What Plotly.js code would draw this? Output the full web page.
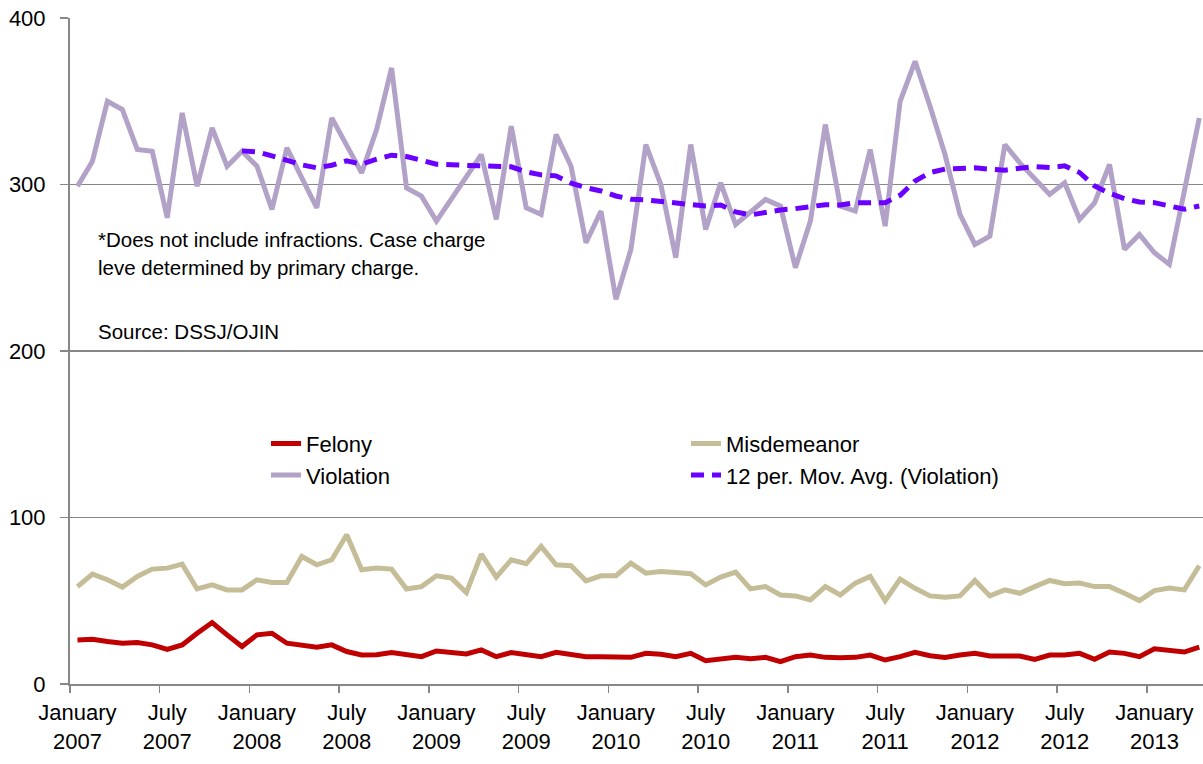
<!DOCTYPE html>
<html>
<head>
<meta charset="utf-8">
<script src="https://cdn.plot.ly/plotly-3.0.1.min.js"></script>
<style>
  html, body { margin: 0; padding: 0; background: #ffffff; overflow: hidden; }
  #chart { width: 1203px; height: 764px; }
</style>
</head>
<body>
<div id="chart"></div>
<script>
// ---- Data ----
var monthNames = ["January","February","March","April","May","June","July","August","September","October","November","December"];
var startYear = 2007;
var felony = [26.5,26.9,25.5,24.5,24.9,23.5,20.8,23.5,30.5,36.9,29.5,22.5,
              29.5,30.5,24.5,23.1,22.1,23.5,19.5,17.4,17.6,18.9,17.8,16.4,
              19.8,18.9,18.0,20.5,16.4,18.9,18.0,16.4,19.0,18.0,16.4,16.4,
              16.0,16.0,18.4,17.8,16.4,18.4,14.0,14.8,16.0,15.2,16.0,13.4,
              16.4,17.4,16.0,15.8,16.0,17.4,14.4,16.4,19.0,17.0,16.0,17.4,
              18.4,16.8,16.8,16.8,14.8,17.4,17.4,18.4,14.8,19.2,18.4,16.4,
              21.1,20.1,19.2,22.1];
var misdemeanor = [58.5,66.0,62.6,58.2,64.6,69.0,69.6,72.0,57.1,59.5,56.5,56.5,
                   62.6,61.0,61.0,76.6,71.6,74.6,89.6,68.6,69.6,69.0,57.1,58.5,
                   65.0,63.6,54.9,78.0,64.2,74.6,72.2,82.6,71.6,71.0,62.0,65.0,
                   65.0,72.6,66.6,67.6,67.0,66.2,59.5,64.2,67.2,57.1,58.5,53.5,
                   52.9,50.5,58.5,53.5,60.6,64.6,50.1,63.0,57.5,52.9,52.1,52.9,
                   62.2,52.9,56.5,54.5,58.5,62.2,60.2,60.6,58.5,58.5,54.5,50.1,
                   56.1,57.7,56.5,71.0];
var violation = [299,314,350,345,321,320,280,343,299,334,311,320,
                 311,285,322,304,286,340,323,307,333,370,298,293,
                 278,291,304,318,279,335,286,282,330,311,265,284,
                 231,261,324,300,256,324,273,301,276,284,291,287,
                 250,278,336,287,284,321,275,350,374,347,318,282,
                 264,269,324,313,304,294,301,279,289,312,261,270,
                 259,252,296,340];
var movingAvg = [null,null,null,null,null,null,null,null,null,null,null,320.2,
                 319.6,317.2,314.6,311.8,310.0,311.6,314.2,312.2,315.2,317.6,316.8,314.2,
                 312.2,311.8,311.6,311.6,311.2,310.6,307.6,305.8,305.2,300.8,298.1,296.1,
                 293.1,291.1,290.7,289.9,288.7,287.7,287.1,287.7,283.5,281.7,283.5,284.7,
                 285.5,286.5,287.9,287.7,289.1,289.1,289.1,293.5,302.1,307.2,309.2,309.6,
                 310.0,309.2,308.6,309.8,310.8,310.2,311.2,307.2,299.1,294.7,291.5,289.5,
                 289.1,287.1,285.1,287.1];
var seriesNames = ["Felony","Misdemeanor","Violation","12 per. Mov. Avg. (Violation)"];
var noteLines = ["*Does not include infractions. Case charge",
                 "leve determined by primary charge.",
                 "Source: DSSJ/OJIN"];

// category labels, one per month
var categories = [];
for (var i = 0; i < violation.length; i++) {
  var m = i % 12, y = startYear + Math.floor(i / 12);
  categories.push(monthNames[m] + "<br>" + y);
}

var FONT = "Arial, 'Liberation Sans', sans-serif";
var GREY = "#878787";

var traces = [
  {x: categories, y: felony, name: seriesNames[0], type: "scatter", mode: "lines",
   line: {color: "#C00000", width: 5}},
  {x: categories, y: misdemeanor, name: seriesNames[1], type: "scatter", mode: "lines",
   line: {color: "#C4BD97", width: 5}},
  {x: categories, y: violation, name: seriesNames[2], type: "scatter", mode: "lines",
   line: {color: "#B3A2C7", width: 5}},
  {x: categories, y: movingAvg, name: seriesNames[3], type: "scatter", mode: "lines",
   line: {color: "#6A00FF", width: 5, dash: "13px,8px"}, connectgaps: false}
];

var layout = {
  width: 1203, height: 764,
  margin: {l: 70, r: 0, t: 18, b: 80, pad: 0},
  paper_bgcolor: "#ffffff", plot_bgcolor: "#ffffff",
  font: {family: FONT, size: 22, color: "#000000"},
  showlegend: true,
  legend: {
    orientation: "h", x: 0.173, y: 0.3925, xanchor: "left", yanchor: "top",
    entrywidth: 375, entrywidthmode: "pixels",
    bgcolor: "rgba(0,0,0,0)", font: {family: FONT, size: 22, color: "#000000"},
    itemwidth: 30, tracegroupgap: 0
  },
  xaxis: {
    type: "category", range: [-0.5, 75.25],
    tickmode: "linear", tick0: 0, dtick: 6, tickson: "boundaries",
    ticks: "outside", ticklen: 7, tickwidth: 1.5, tickcolor: GREY,
    showline: true, linecolor: GREY, linewidth: 2,
    showgrid: false, zeroline: false, tickangle: 0,
    tickfont: {family: FONT, size: 22, color: "#000000"},
    ticklabelstandoff: 8, fixedrange: true
  },
  yaxis: {
    range: [0, 400], tickmode: "linear", tick0: 0, dtick: 100,
    ticks: "outside", ticklen: 8, tickwidth: 1.5, tickcolor: GREY,
    showline: true, linecolor: GREY, linewidth: 2,
    showgrid: true, gridcolor: GREY, gridwidth: 1.5, zeroline: false,
    tickfont: {family: FONT, size: 22, color: "#000000"},
    ticklabelstandoff: 10, fixedrange: true
  },
  annotations: [
    {text: noteLines[0], xref: "paper", yref: "paper", x: 0.023, y: 0.6667, xanchor: "left", yanchor: "middle", showarrow: false, font: {family: FONT, size: 20.5, color: "#000000"}},
    {text: noteLines[1], xref: "paper", yref: "paper", x: 0.023, y: 0.6261, xanchor: "left", yanchor: "middle", showarrow: false, font: {family: FONT, size: 20.5, color: "#000000"}},
    {text: noteLines[2], xref: "paper", yref: "paper", x: 0.023, y: 0.530, xanchor: "left", yanchor: "middle", showarrow: false, font: {family: FONT, size: 20.5, color: "#000000"}}
  ]
};

Plotly.newPlot("chart", traces, layout, {displayModeBar: false, staticPlot: true});
</script>
</body>
</html>
